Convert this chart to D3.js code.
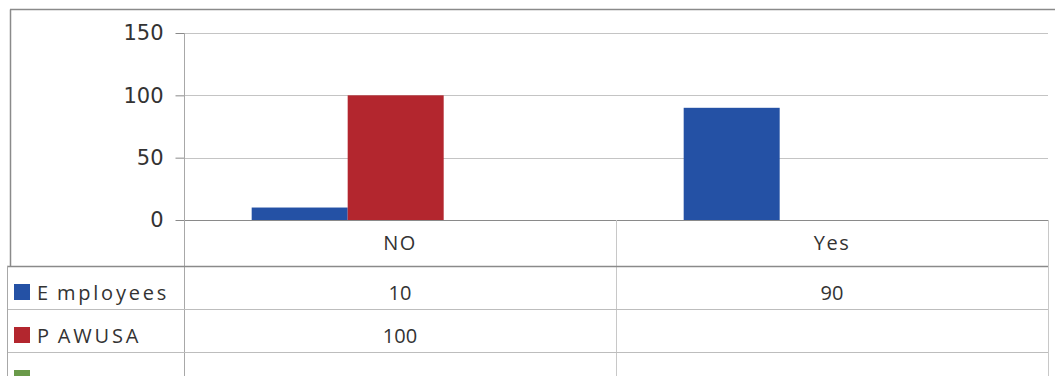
<!DOCTYPE html>
<html>
<head>
<meta charset="utf-8">
<script src="https://cdn.jsdelivr.net/npm/d3@7"></script>
<style>
  html, body { margin: 0; padding: 0; background: #fff; }
  svg { display: block; }
</style>
</head>
<body>
<svg id="chart" width="1055" height="376"></svg>
<script>
// ---- data ----
const categories = ["NO", "Yes"];
const seriesNames = ["Employees", "PAWUSA", ""];
const employeesValues = [10, 90];
const pawusaValues = [100, null];
const thirdValues = [null, null];
const seriesColors = ["#2451a5", "#b3262e", "#6a9a4a"];
const yTicks = [0, 50, 100, 150];

const seriesValues = [employeesValues, pawusaValues, thirdValues];

// ---- layout ----
const W = 1055, H = 376;
const plotLeft = 184, plotRight = 1048, plotTop = 33, plotBottom = 220;
const tableLeft = 7;
const catRowBottom = 266;
const rowH = 43;

const svg = d3.select("#chart");

const x0 = d3.scaleBand().domain(categories).range([plotLeft, plotRight]).paddingInner(0).paddingOuter(0);
const x1 = d3.scaleBand().domain(seriesNames.map((d, i) => i)).range([0, x0.bandwidth()]).paddingInner(0).paddingOuter(0.75).align(0.47);
const y = d3.scaleLinear().domain([0, 150]).range([plotBottom, plotTop]);

// outer frame
svg.append("line").attr("x1", 10).attr("x2", W).attr("y1", 9.5).attr("y2", 9.5).attr("stroke", "#8a8a8a").attr("stroke-width", 1.5);
svg.append("line").attr("x1", 10.5).attr("x2", 10.5).attr("y1", 9.5).attr("y2", catRowBottom).attr("stroke", "#8a8a8a").attr("stroke-width", 1.5);

// gridlines
svg.append("g").selectAll("line").data(yTicks.filter(d => d > 0)).join("line")
  .attr("x1", plotLeft).attr("x2", plotRight)
  .attr("y1", d => Math.round(y(d)) + 0.5).attr("y2", d => Math.round(y(d)) + 0.5)
  .attr("stroke", "#c4c4c4").attr("stroke-width", 1);

// y axis
const yAxis = d3.axisLeft(y).tickValues(yTicks).tickSize(9).tickPadding(12);
const gy = svg.append("g").attr("transform", `translate(${plotLeft + 0.5},0)`).call(yAxis);
gy.select(".domain").remove();
gy.selectAll(".tick line").attr("stroke", "#8a8a8a");
gy.selectAll(".tick text").attr("font-family", "DejaVu Sans, Verdana, sans-serif").attr("font-size", 21).attr("fill", "#333");

// bars
const groups = svg.append("g").selectAll("g").data(categories).join("g")
  .attr("transform", d => `translate(${x0(d)},0)`);
groups.selectAll("rect")
  .data((c, ci) => seriesValues.map((vals, si) => ({ si, v: vals[ci] })).filter(d => d.v != null))
  .join("rect")
  .attr("x", d => x1(d.si))
  .attr("width", x1.bandwidth())
  .attr("y", d => y(d.v))
  .attr("height", d => plotBottom - y(d.v))
  .attr("fill", d => seriesColors[d.si]);

// zero line / category row top
svg.append("line").attr("x1", plotLeft).attr("x2", plotRight).attr("y1", plotBottom + 0.5).attr("y2", plotBottom + 0.5).attr("stroke", "#8a8a8a").attr("stroke-width", 1.2);
// axis vertical line
svg.append("line").attr("x1", plotLeft + 0.5).attr("x2", plotLeft + 0.5).attr("y1", plotTop).attr("y2", H).attr("stroke", "#a8a8a8");
// category separators and right border
const sepXs = categories.map(c => x0(c) + x0.bandwidth());
svg.append("g").selectAll("line").data(sepXs).join("line")
  .attr("x1", d => Math.round(d) + 0.5).attr("x2", d => Math.round(d) + 0.5)
  .attr("y1", plotBottom).attr("y2", H)
  .attr("stroke", "#c8c8c8");
// row lines
const rowLines = [catRowBottom, catRowBottom + rowH - 0.5, catRowBottom + 2 * rowH - 0.5];
svg.append("g").selectAll("line").data(rowLines).join("line")
  .attr("x1", tableLeft).attr("x2", plotRight)
  .attr("y1", d => Math.round(d) + 0.5).attr("y2", d => Math.round(d) + 0.5)
  .attr("stroke", (d, i) => i === 0 ? "#8a8a8a" : "#bdbdbd").attr("stroke-width", (d, i) => i === 0 ? 1.5 : 1);
// table left border
svg.append("line").attr("x1", tableLeft + 0.5).attr("x2", tableLeft + 0.5).attr("y1", catRowBottom).attr("y2", H).attr("stroke", "#a8a8a8");

const tf = "'Open Sans', Lato, sans-serif";
// category labels
svg.append("g").selectAll("text").data(categories).join("text")
  .attr("x", d => x0(d) + x0.bandwidth() / 2)
  .attr("y", (plotBottom + catRowBottom) / 2 + 7)
  .attr("text-anchor", "middle")
  .attr("font-family", tf).attr("font-size", 20).attr("fill", "#333")
  .attr("letter-spacing", 1.5)
  .text(d => d);

// legend rows
const rows = svg.append("g").selectAll("g").data(seriesNames).join("g")
  .attr("transform", (d, i) => `translate(0,${catRowBottom + i * rowH})`);
rows.append("rect").attr("x", 14).attr("y", 18).attr("width", 16).attr("height", 16)
  .attr("fill", (d, i) => seriesColors[i]);
const lbl = rows.append("text").attr("x", 37).attr("y", 34)
  .attr("font-family", tf).attr("font-size", 20).attr("fill", "#333")
  .attr("letter-spacing", 2.8);
lbl.append("tspan").text(d => d.slice(0, 1));
lbl.append("tspan").attr("dx", 6).text(d => d.slice(1));

// values
rows.each(function (name, si) {
  d3.select(this).selectAll("text.val")
    .data(categories.map((c, ci) => ({ c, v: seriesValues[si][ci] })).filter(d => d.v != null))
    .join("text").attr("class", "val")
    .attr("x", d => x0(d.c) + x0.bandwidth() / 2)
    .attr("y", 34)
    .attr("text-anchor", "middle")
    .attr("font-family", tf).attr("font-size", 20).attr("fill", "#333")
    .text(d => d.v);
});
</script>
</body>
</html>
